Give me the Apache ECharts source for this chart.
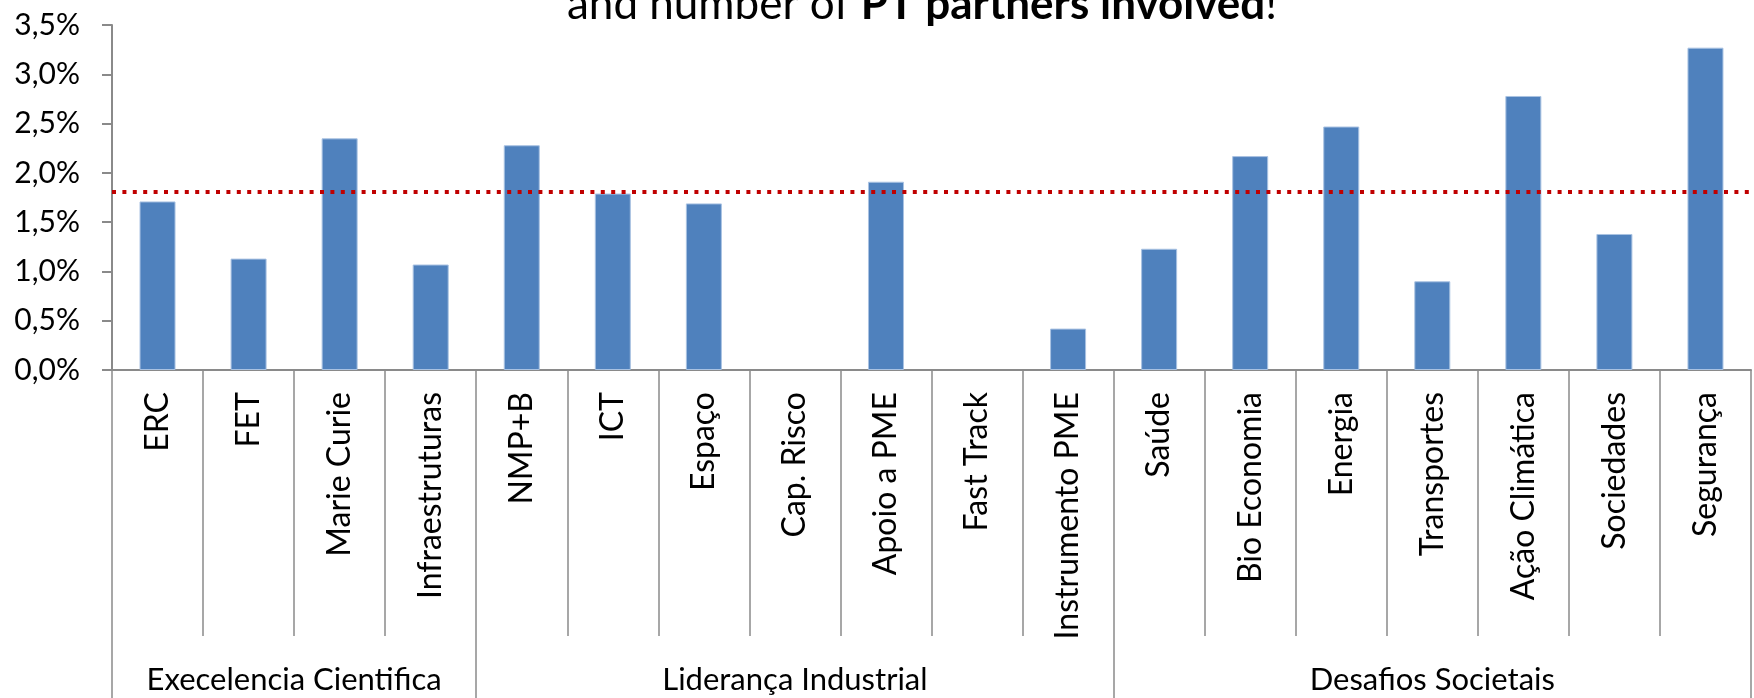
<!DOCTYPE html>
<html>
<head>
<meta charset="utf-8">
<title>Chart</title>
<script src="https://cdn.jsdelivr.net/npm/echarts@6/dist/echarts.min.js"></script>
<style>
  html, body { margin: 0; padding: 0; background: #fff; }
  #main { width: 1754px; height: 698px; }
</style>
</head>
<body>
<div id="main"></div>
<script>
const categories = ['ERC', 'FET', 'Marie Curie', 'Infraestruturas', 'NMP+B', 'ICT', 'Espaço', 'Cap. Risco', 'Apoio a PME', 'Fast Track', 'Instrumento PME', 'Saúde', 'Bio Economia', 'Energia', 'Transportes', 'Ação Climática', 'Sociedades', 'Segurança']
const values = [1.71, 1.13, 2.35, 1.07, 2.28, 1.79, 1.69, 0, 1.91, 0, 0.42, 1.23, 2.17, 2.47, 0.90, 2.78, 1.38, 3.27]
const average = 1.815
const groups = ['Execelencia Cientifica', 'Liderança Industrial', 'Desafios Societais']
const groupSizes = [4, 7, 7]

// second axis: half-category points, group names sit in the middle of each group
const groupPoints = []
const groupEdges = [0]
for (let i = 0; i <= categories.length * 2; i++) groupPoints.push('')
let start = 0
for (let g = 0; g < groups.length; g++) {
  groupPoints[start + groupSizes[g]] = groups[g]
  start += groupSizes[g] * 2
  groupEdges.push(start)
}

const font = 'Lato, "Noto Sans", sans-serif'
const axisGray = '#8a8a8a'

const chart = echarts.init(document.getElementById('main'))
chart.setOption({
  backgroundColor: '#fff',
  animation: false,
  graphic: [{
    type: 'text',
    x: 922,
    y: 5,
    style: {
      text: '{n|and number of }{b|PT partners involved}{n|!}',
      textAlign: 'center',
      textVerticalAlign: 'middle',
      rich: {
        n: { fontFamily: font, fontSize: 44, fill: '#000' },
        b: { fontFamily: font, fontSize: 44, fontWeight: 'bold', fill: '#000' }
      }
    }
  }],
  grid: {
    left: 112,
    top: 25,
    bottom: 328,
    width: 1646
  },
  xAxis: [{
    type: 'category',
    data: categories,
    axisLine: { lineStyle: { color: axisGray, width: 2 } },
    axisTick: { show: true, length: 266, lineStyle: { color: axisGray, width: 1.5 } },
    axisLabel: {
      interval: 0,
      rotate: 90,
      margin: 22,
      fontFamily: font,
      fontSize: 32,
      color: '#000'
    }
  }, {
    type: 'category',
    position: 'bottom',
    offset: 266,
    boundaryGap: false,
    data: groupPoints,
    axisLine: { show: false },
    axisTick: {
      show: true,
      length: 80,
      interval: function (i) { return groupEdges.indexOf(i) > -1 },
      lineStyle: { color: axisGray, width: 1.5 }
    },
    axisLabel: {
      interval: 0,
      margin: 28,
      fontFamily: font,
      fontSize: 31,
      color: '#000'
    }
  }],
  yAxis: {
    type: 'value',
    min: 0,
    max: 3.5,
    interval: 0.5,
    splitLine: { show: false },
    axisLine: { show: true, lineStyle: { color: axisGray, width: 2 } },
    axisTick: { show: true, length: 10, lineStyle: { color: axisGray, width: 2 } },
    axisLabel: {
      margin: 32,
      fontFamily: font,
      fontSize: 30,
      color: '#000',
      formatter: function (v) { return v.toFixed(1).replace('.', ',') + '%' }
    }
  },
  series: [{
    type: 'bar',
    data: values.map(function (v) {
      return v === 0 ? { value: v, itemStyle: { borderWidth: 0 } } : v
    }),
    barWidth: 36,
    itemStyle: { color: '#4f81bd', borderColor: '#a9c2e2', borderWidth: 1 },
    markLine: {
      silent: true,
      symbol: ['none', 'none'],
      label: { show: false },
      lineStyle: { color: '#c00000', width: 4, type: [4, 6.4] },
      data: [{ yAxis: average }]
    }
  }]
})
</script>
</body>
</html>
